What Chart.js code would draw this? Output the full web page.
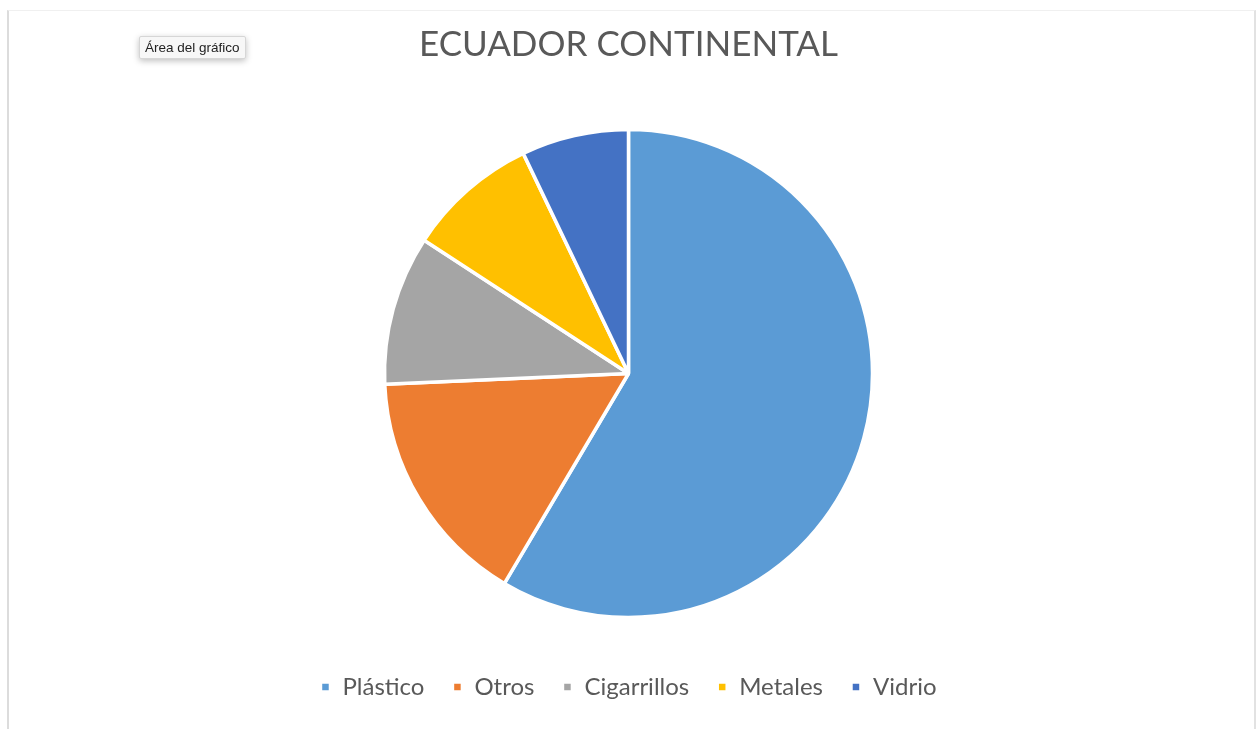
<!DOCTYPE html>
<html>
<head>
<meta charset="utf-8">
<script src="https://cdn.jsdelivr.net/npm/chart.js@4.4.1/dist/chart.umd.min.js"></script>
<style>
  html, body { margin: 0; padding: 0; background: #fff; }
  #frame {
    position: absolute; left: 7px; top: 10px; width: 1245px; height: 719px;
    border-left: 2px solid #dcdcdc; border-right: 2px solid #e2e2e2; border-top: 1px solid #f0f0f0;
  }
  #wrap { position: absolute; left: 0; top: 0; width: 1257px; height: 729px; }
  #tip {
    position: absolute; left: 139px; top: 36px; padding: 3px 5px;
    font: 13.5px "Liberation Sans", Arial, sans-serif; color: #222;
    background: #f7f7f7; border: 1px solid #d6d6d6; border-radius: 2px;
    box-shadow: 0 2px 6px rgba(0,0,0,0.25);
  }
</style>
</head>
<body>
<div id="frame"></div>
<div id="wrap"><canvas id="c" width="1257" height="729"></canvas></div>
<div id="tip">Área del gráfico</div>
<script>
// categorias y porcentajes
const categories = ["Plástico", "Otros", "Cigarrillos", "Metales", "Vidrio"];
const values = [58.5, 15.8, 9.9, 8.7, 7.1];
const colors = ["#5B9BD5", "#ED7D31", "#A5A5A5", "#FFC000", "#4472C4"];

const ctx = document.getElementById("c").getContext("2d");
new Chart(ctx, {
  type: "pie",
  data: {
    labels: categories,
    datasets: [{
      data: values,
      backgroundColor: colors,
      borderColor: "#ffffff",
      borderWidth: 3.5,
      radius: 244,
    }],
  },
  options: {
    responsive: false,
    animation: false,
    layout: { padding: { top: 0, bottom: 20, left: 0, right: 0 } },
    plugins: {
      title: {
        display: true,
        text: "ECUADOR CONTINENTAL",
        color: "#595959",
        font: { family: "Lato", size: 35, weight: "normal" },
        padding: { top: 24, bottom: 34 },
      },
      legend: {
        position: "bottom",
        labels: {
          color: "#595959",
          font: { family: "Lato", size: 24 },
          boxWidth: 10,
          boxHeight: 10,
          padding: 28,
        },
      },
      tooltip: { enabled: false },
    },
  },
});
</script>
</body>
</html>
